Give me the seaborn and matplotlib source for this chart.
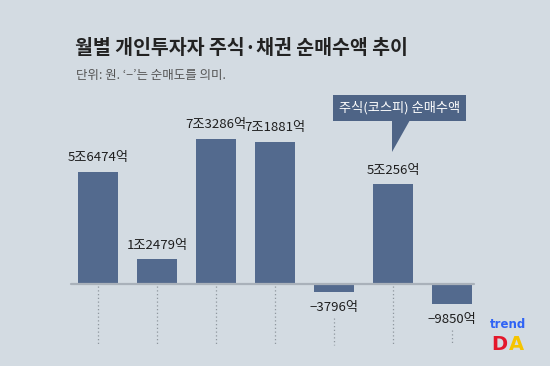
import matplotlib.pyplot as plt
from matplotlib.patches import Polygon, Rectangle
import seaborn as sns
import pandas as pd

# Data (unit: 억원)
periods = ['p1', 'p2', 'p3', 'p4', 'p5', 'p6', 'p7']
net_buy = [56474, 12479, 73286, 71881, -3796, 50256, -9850]

title = '월별 개인투자자 주식·채권 순매수액 추이'
subtitle = '단위: 원. ‘−’는 순매도를 의미.'
callout = '주식(코스피) 순매수액'

bg_color = '#D3DBE2'
bar_color = '#536A8E'
box_color = '#4E6486'
text_color = '#1E1E1E'

sns.set_theme(style='white')
plt.rcParams['font.family'] = ['Noto Sans CJK KR', 'DejaVu Sans']


def fmt(v):
    sign = '−' if v < 0 else ''
    v = abs(v)
    jo, eok = divmod(v, 10000)
    if jo:
        return f'{sign}{jo}조{eok}억'
    return f'{sign}{eok}억'


df = pd.DataFrame({'period': periods, 'value': [v / 10000 for v in net_buy]})

W, H = 550, 366
fig = plt.figure(figsize=(5.5, 3.66), dpi=100)
fig.patch.set_facecolor(bg_color)


def px(x, y):
    return x / W, 1 - y / H


# axes placed so that y=0 sits at 284px and bars are 59px apart
ax = fig.add_axes([68.5 / W, 16 / H, 413 / W, 220 / H])
ax.set_facecolor(bg_color)
sns.barplot(data=df, x='period', y='value', color=bar_color, width=0.68,
            saturation=1, linewidth=0, edgecolor='none', ax=ax)
ax.set_xlim(-0.5, 6.5)
ax.set_ylim(-3.333, 7.778)
ax.axis('off')

ax.plot([-0.45, 6.38], [0, 0], color='#A9B1BA', lw=1.6, zorder=1)

for i, v in enumerate(df['value']):
    if v >= 0:
        ax.text(i, v + 0.72, fmt(net_buy[i]), ha='center', va='center',
                fontsize=9.5, color=text_color)
        ax.vlines(i, -0.1, -3.08, colors='#8E969E', linestyles=(0, (1, 2)), lw=0.9)
    else:
        ax.text(i, v - 0.8, fmt(net_buy[i]), ha='center', va='center',
                fontsize=9.5, color=text_color)
        ax.vlines(i, v - 1.35, -3.08, colors='#8E969E', linestyles=(0, (1, 2)), lw=0.9)

# title and subtitle
fig.text(*px(75, 48), title, fontsize=14, fontweight='bold', color='#222222',
         va='center', ha='left')
fig.text(*px(76, 75), subtitle, fontsize=9, color='#555555',
         va='center', ha='left')

# callout box
x0, y0 = px(333, 121)
x1, y1 = px(466, 95)
fig.patches.append(Rectangle((x0, y0), x1 - x0, y1 - y0, transform=fig.transFigure,
                             facecolor=box_color, edgecolor='none'))
fig.patches.append(Polygon([px(392, 120), px(410, 120), px(392, 152)],
                           closed=True, transform=fig.transFigure,
                           facecolor=box_color, edgecolor='none'))
fig.text(*px(400, 108), callout, fontsize=9.5, color='white', fontweight='medium',
         ha='center', va='center')

# logo
fig.text(*px(508, 325), 'trend', fontsize=8.5, fontweight='bold', color='#2F63F5',
         ha='center', va='center', family=['DejaVu Sans'])
fig.text(*px(499, 345), 'D', fontsize=14, fontweight='bold', color='#E4172B',
         ha='center', va='center', family=['DejaVu Sans'])
fig.text(*px(516, 345), 'A', fontsize=14, fontweight='bold', color='#F5C400',
         ha='center', va='center', family=['DejaVu Sans'])

fig.savefig('out.png', dpi=100, facecolor=bg_color)
